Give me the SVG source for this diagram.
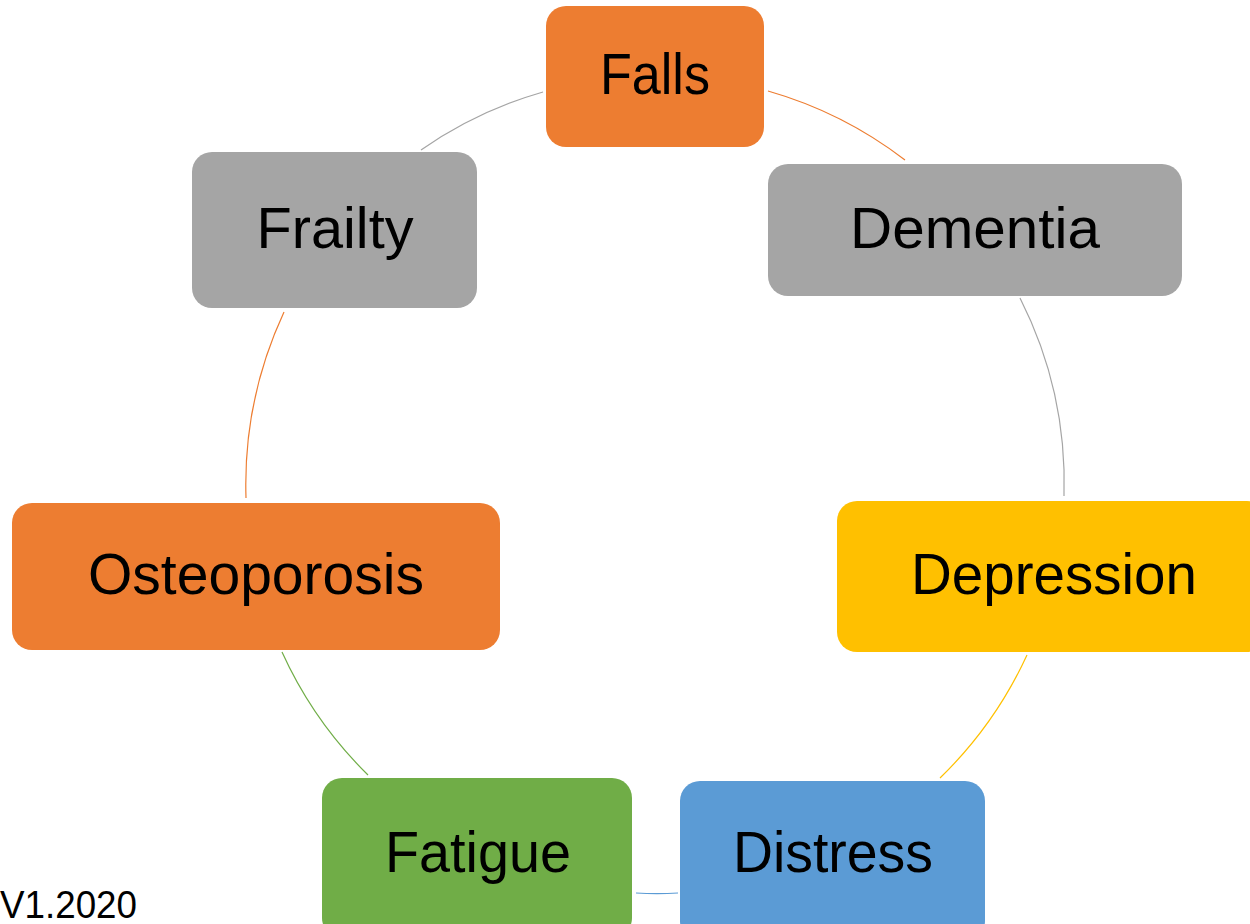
<svg xmlns="http://www.w3.org/2000/svg" width="1250" height="924" viewBox="0 0 1250 924">
<style>
.lbl{font-family:"Liberation Sans",Arial,sans-serif;font-size:58px;fill:#000;text-anchor:middle}
.c{fill:none;stroke-width:1.2}
</style>
<rect width="1250" height="924" fill="#fff"/>
<g id="connectors">
<path class="c" stroke="#ED7D31" d="M768,91 A410,410 0 0 1 905,160"/>
<path class="c" stroke="#A5A5A5" d="M1020,298 A410,410 0 0 1 1064,496"/>
<path class="c" stroke="#FFC000" d="M1027,655 A410,410 0 0 1 940,778"/>
<path class="c" stroke="#5B9BD5" d="M678,893 A410,410 0 0 1 636,893"/>
<path class="c" stroke="#70AD47" d="M368,775 A410,410 0 0 1 282,652"/>
<path class="c" stroke="#ED7D31" d="M246,498 A410,410 0 0 1 284,312"/>
<path class="c" stroke="#A5A5A5" d="M421,150 A410,410 0 0 1 543,92"/>
</g>
<g id="falls"><rect x="546" y="6" width="218" height="141" rx="20" fill="#ED7D31"/><text class="lbl" x="655" y="94" textLength="110" lengthAdjust="spacingAndGlyphs">Falls</text></g>
<g id="dementia"><rect x="768" y="164" width="414" height="132" rx="20" fill="#A5A5A5"/><text class="lbl" x="975" y="248" textLength="250" lengthAdjust="spacingAndGlyphs">Dementia</text></g>
<g id="depression"><rect x="837" y="501" width="430" height="151" rx="20" fill="#FFC000"/><text class="lbl" x="1054" y="594" textLength="286" lengthAdjust="spacingAndGlyphs">Depression</text></g>
<g id="distress"><rect x="680" y="781" width="305" height="160" rx="20" fill="#5B9BD5"/><text class="lbl" x="833" y="872" textLength="200" lengthAdjust="spacingAndGlyphs">Distress</text></g>
<g id="fatigue"><rect x="322" y="778" width="310" height="160" rx="20" fill="#70AD47"/><text class="lbl" x="478" y="872" textLength="186" lengthAdjust="spacingAndGlyphs">Fatigue</text></g>
<g id="osteoporosis"><rect x="12" y="503" width="488" height="147" rx="20" fill="#ED7D31"/><text class="lbl" x="256" y="594" textLength="336" lengthAdjust="spacingAndGlyphs">Osteoporosis</text></g>
<g id="frailty"><rect x="192" y="152" width="285" height="156" rx="20" fill="#A5A5A5"/><text class="lbl" x="335" y="248" textLength="157" lengthAdjust="spacingAndGlyphs">Frailty</text></g>
<text x="0" y="918" font-family="Liberation Sans, Arial, sans-serif" font-size="38" fill="#000" textLength="137" lengthAdjust="spacingAndGlyphs">V1.2020</text>
</svg>
